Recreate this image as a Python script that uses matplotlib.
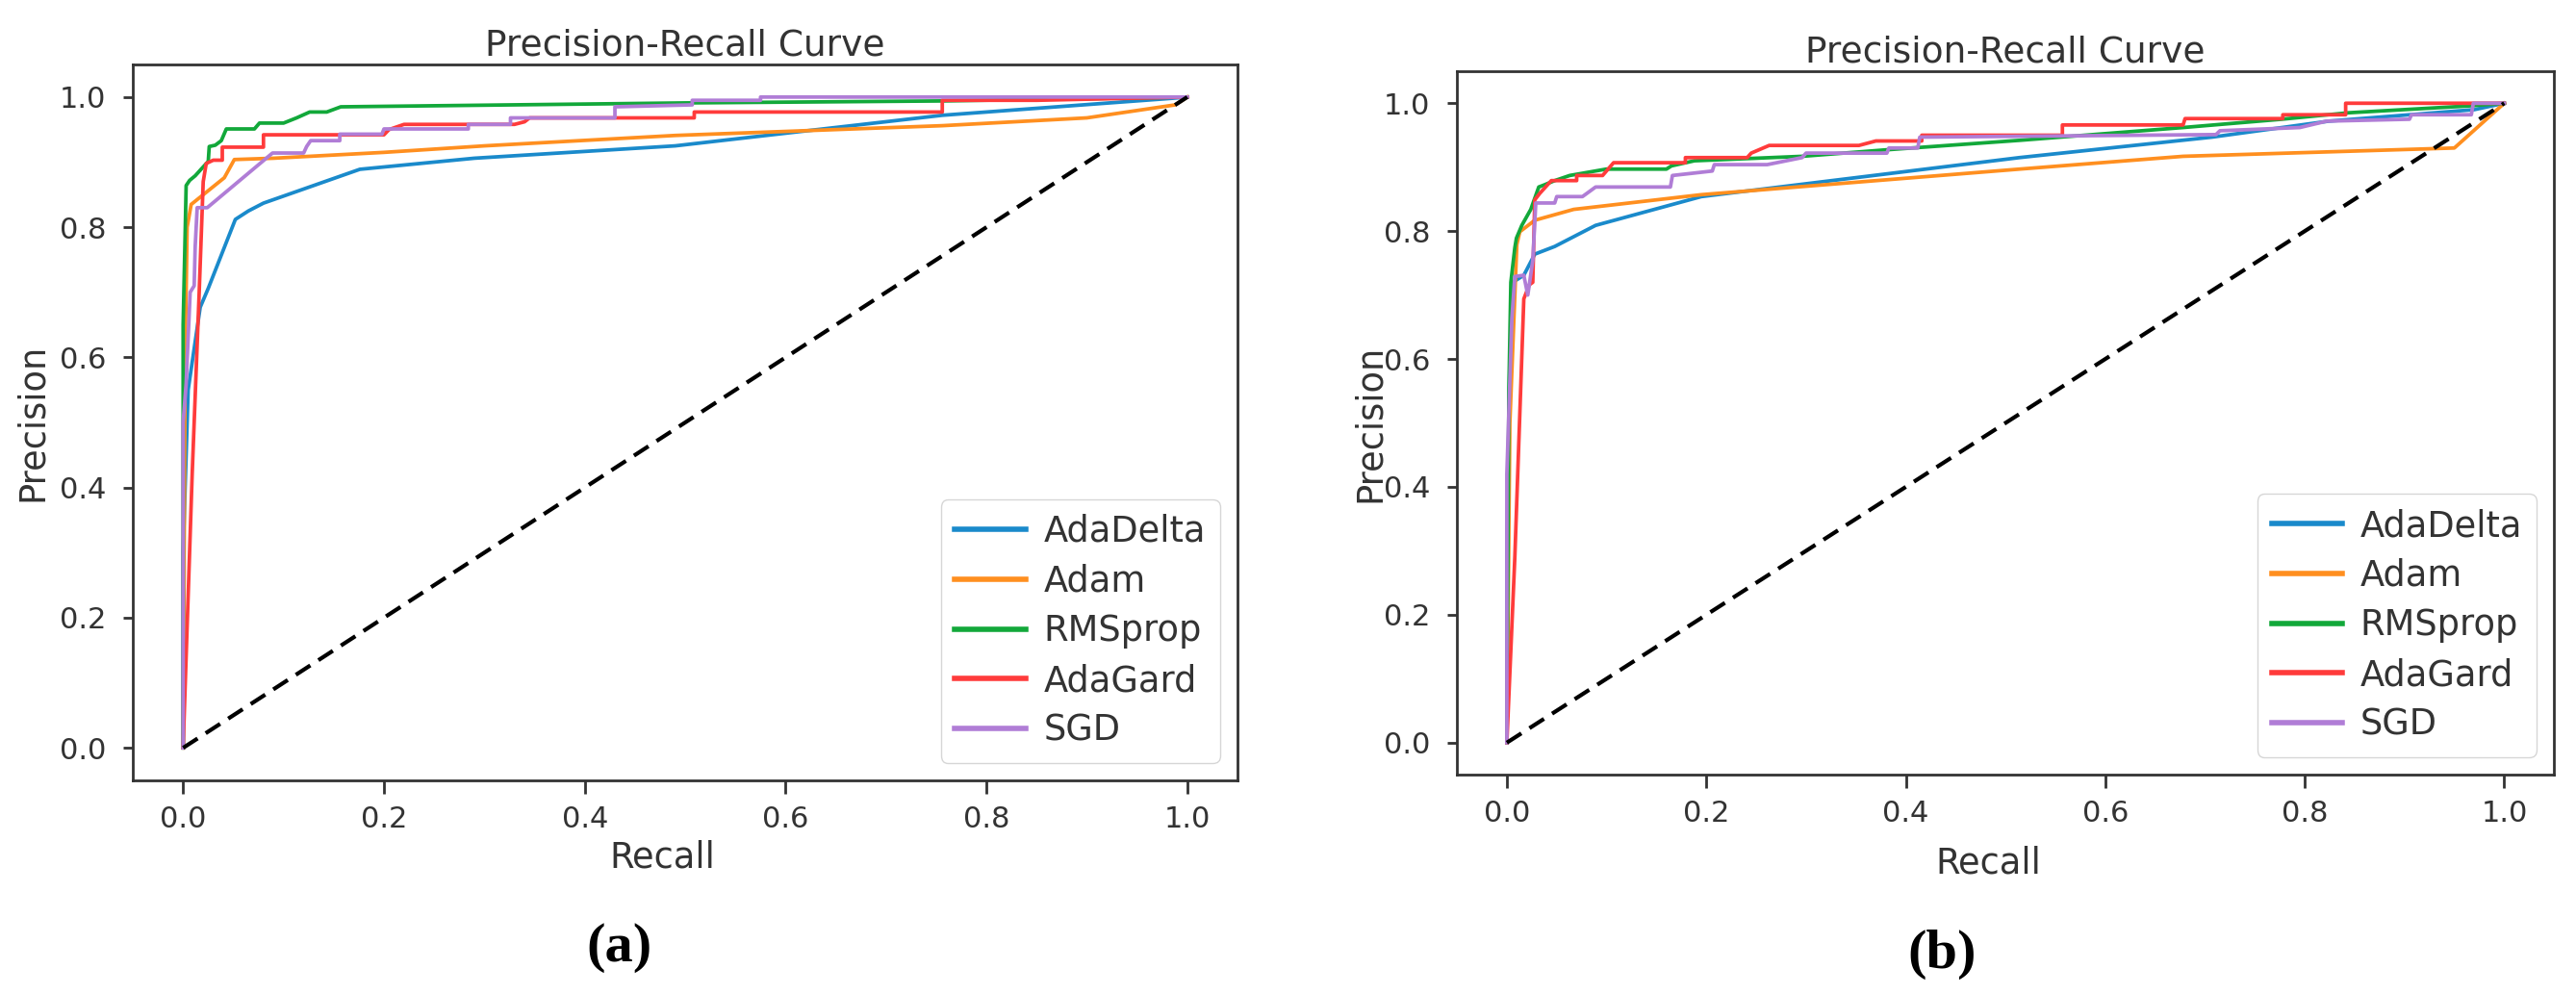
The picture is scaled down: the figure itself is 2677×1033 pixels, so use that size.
import matplotlib.pyplot as plt

plt.rcParams['font.family'] = 'DejaVu Sans'

labels = ["AdaDelta", "Adam", "RMSprop", "AdaGard", "SGD"]
colors = ["#1a8acb", "#ff8f1f", "#12a83a", "#ff3b3b", "#b07dd6"]

# (a) recall / precision
a_adadelta_r = [0, 0.0, 0.005, 0.017, 0.025, 0.052, 0.065, 0.08, 0.176, 0.29, 0.49, 0.756, 0.984, 1.0]
a_adadelta_p = [0, 0.3, 0.55, 0.677, 0.706, 0.812, 0.825, 0.837, 0.889, 0.906, 0.925, 0.972, 0.998, 1.0]
a_adam_r = [0, 0.002, 0.004, 0.008, 0.041, 0.051, 0.09, 0.2, 0.3, 0.49, 0.756, 0.90, 0.988, 1.0]
a_adam_p = [0, 0.6, 0.80, 0.835, 0.876, 0.904, 0.906, 0.915, 0.925, 0.941, 0.956, 0.968, 0.988, 1.0]
a_rms_r = [0, 0.0, 0.002, 0.003, 0.0065, 0.012, 0.019, 0.025, 0.026, 0.032, 0.038, 0.043, 0.071, 0.076,
           0.1, 0.113, 0.126, 0.143, 0.157, 0.5, 0.755, 1.0]
a_rms_p = [0, 0.65, 0.79, 0.864, 0.872, 0.879, 0.891, 0.901, 0.924, 0.926, 0.933, 0.951, 0.951, 0.96,
           0.96, 0.968, 0.977, 0.977, 0.985, 0.991, 0.994, 1.0]
a_ada_r = [0, 0.009, 0.016, 0.02, 0.023, 0.030, 0.039, 0.039, 0.08, 0.08, 0.20, 0.205, 0.22, 0.33,
           0.34, 0.345, 0.509, 0.509, 0.756, 0.756, 0.85, 1.0]
a_ada_p = [0, 0.42, 0.70, 0.87, 0.898, 0.903, 0.903, 0.923, 0.923, 0.942, 0.942, 0.95, 0.958, 0.958,
           0.962, 0.968, 0.968, 0.977, 0.977, 0.995, 0.995, 1.0]
a_sgd_r = [0, 0, 0.003, 0.007, 0.011, 0.012, 0.014, 0.024, 0.089, 0.12, 0.123, 0.127, 0.156, 0.156,
           0.198, 0.2, 0.284, 0.284, 0.326, 0.326, 0.43, 0.43, 0.507, 0.507, 0.575, 0.575, 1.0]
a_sgd_p = [0, 0.5, 0.56, 0.70, 0.71, 0.77, 0.83, 0.83, 0.914, 0.914, 0.924, 0.933, 0.933, 0.943,
           0.943, 0.951, 0.951, 0.958, 0.958, 0.968, 0.968, 0.985, 0.988, 0.995, 0.995, 1.0, 1.0]

# (b) recall / precision
b_adadelta_r = [0, 0, 0.003, 0.006, 0.017, 0.028, 0.048, 0.089, 0.195, 0.514, 0.707, 0.824, 0.97, 1.0]
b_adadelta_p = [0, 0.29, 0.6, 0.72, 0.731, 0.764, 0.776, 0.809, 0.854, 0.915, 0.947, 0.972, 0.99, 1.0]
b_adam_r = [0, 0.003, 0.008, 0.01, 0.013, 0.028, 0.067, 0.195, 0.514, 0.678, 0.95, 1.0]
b_adam_p = [0, 0.5, 0.7, 0.779, 0.799, 0.817, 0.834, 0.857, 0.897, 0.917, 0.93, 1.0]
b_rms_r = [0, 0.002, 0.004, 0.008, 0.0096, 0.015, 0.024, 0.032, 0.037, 0.048, 0.063, 0.0997, 0.16,
           0.165, 0.188, 0.296, 0.379, 0.514, 0.678, 0.777, 0.843, 0.967, 1.0]
b_rms_p = [0, 0.55, 0.72, 0.774, 0.789, 0.809, 0.834, 0.869, 0.872, 0.879, 0.887, 0.897, 0.897,
           0.902, 0.91, 0.917, 0.927, 0.942, 0.962, 0.975, 0.985, 0.996, 1.0]
b_ada_r = [0, 0.008, 0.017, 0.0225, 0.026, 0.028, 0.033, 0.0446, 0.070, 0.070, 0.096, 0.107, 0.179,
           0.179, 0.241, 0.245, 0.263, 0.353, 0.37, 0.416, 0.416, 0.557, 0.557, 0.678, 0.68, 0.778,
           0.778, 0.841, 0.841, 1.0]
b_ada_p = [0, 0.29, 0.694, 0.716, 0.72, 0.849, 0.859, 0.879, 0.879, 0.887, 0.887, 0.907, 0.907,
           0.915, 0.915, 0.922, 0.934, 0.934, 0.941, 0.941, 0.95, 0.95, 0.966, 0.966, 0.976, 0.976,
           0.982, 0.982, 1.0, 1.0]
b_sgd_r = [0, 0, 0.005, 0.008, 0.017, 0.021, 0.026, 0.029, 0.048, 0.05, 0.0758, 0.089, 0.164, 0.166,
           0.206, 0.208, 0.261, 0.296, 0.3, 0.381, 0.383, 0.412, 0.414, 0.711, 0.715, 0.795, 0.822,
           0.905, 0.907, 0.967, 0.969, 1.0]
b_sgd_p = [0, 0.42, 0.663, 0.729, 0.731, 0.70, 0.754, 0.844, 0.844, 0.854, 0.854, 0.869, 0.869,
           0.887, 0.894, 0.904, 0.904, 0.915, 0.922, 0.922, 0.93, 0.93, 0.947, 0.951, 0.957, 0.962,
           0.972, 0.975, 0.982, 0.982, 1.0, 1.0]

chance = [0, 1]

panels = [
    ([a_adadelta_r, a_adam_r, a_rms_r, a_ada_r, a_sgd_r],
     [a_adadelta_p, a_adam_p, a_rms_p, a_ada_p, a_sgd_p]),
    ([b_adadelta_r, b_adam_r, b_rms_r, b_ada_r, b_sgd_r],
     [b_adadelta_p, b_adam_p, b_rms_p, b_ada_p, b_sgd_p]),
]

fig = plt.figure(figsize=(26.77, 10.33), dpi=100)
axes = [fig.add_axes([0.0516, 0.2149, 0.4288, 0.7202]),
        fig.add_axes([0.5656, 0.2207, 0.4259, 0.7076])]

ylab_x = [-0.075, -0.063]
xlab_y = [-0.082, -0.100]
xlab_x = [0.479, 0.484]

for k, ax in enumerate(axes):
    rs, ps = panels[k]
    for r, p, lab, c in zip(rs, ps, labels, colors):
        ax.plot(r, p, color=c, lw=2.7, label=lab)
    ax.plot(chance, chance, color="black", lw=3, linestyle=(0, (4.3, 2.4)))
    ax.set_xlim(-0.05, 1.05)
    ax.set_ylim(-0.05, 1.05)
    ax.set_xticks([0, 0.2, 0.4, 0.6, 0.8, 1.0])
    ax.set_yticks([0, 0.2, 0.4, 0.6, 0.8, 1.0])
    ax.tick_params(axis="both", labelsize=22, colors="#333333", width=2, labelcolor="#333333")
    ax.tick_params(axis="x", length=10, pad=9)
    ax.tick_params(axis="y", length=7, pad=13)
    for s in ax.spines.values():
        s.set_linewidth(2)
        s.set_color("#333333")
    ax.set_title("Precision-Recall Curve", fontsize=27, color="#333333", pad=7)
    ax.set_xlabel("Recall", fontsize=26.5, color="#333333")
    ax.set_ylabel("Precision", fontsize=26.5, color="#333333")
    ax.xaxis.set_label_coords(xlab_x[k], xlab_y[k])
    ax.yaxis.set_label_coords(ylab_x[k], 0.5)
    leg = ax.legend(loc="lower right", fontsize=26.5, handlelength=2.0, handletextpad=0.5,
                    labelspacing=0.4, framealpha=0.8, edgecolor="#cccccc")
    for t in leg.get_texts():
        t.set_color("#333333")
    for h in leg.get_lines():
        h.set_linewidth(4)

fig.text(644 / 2677, 1 - 985 / 1033, "(a)", fontsize=42, fontweight="bold",
         family="Liberation Serif", ha="center", va="center")
fig.text(2018 / 2677, 1 - 992 / 1033, "(b)", fontsize=42, fontweight="bold",
         family="Liberation Serif", ha="center", va="center")

fig.savefig("out.png", dpi=100)
